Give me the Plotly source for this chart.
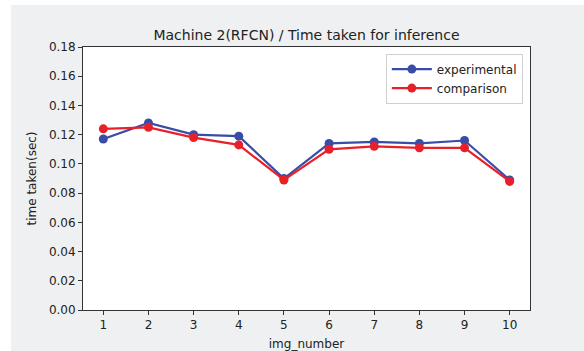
import plotly.graph_objects as go

img_number = list(range(1, 11))
experimental = [0.117, 0.128, 0.120, 0.119, 0.090, 0.114, 0.115, 0.114, 0.116, 0.089]
comparison = [0.124, 0.125, 0.118, 0.113, 0.089, 0.110, 0.112, 0.111, 0.111, 0.088]
y_ticks = [0.00, 0.02, 0.04, 0.06, 0.08, 0.10, 0.12, 0.14, 0.16, 0.18]

BLUE = "#3a4da6"
RED = "#e8202a"
FONT = "DejaVu Sans"
TEXT = "#222222"

fig = go.Figure()
fig.add_trace(go.Scatter(
    x=img_number, y=experimental, name="experimental", mode="lines+markers",
    line=dict(color=BLUE, width=2.2), marker=dict(color=BLUE, size=9),
))
fig.add_trace(go.Scatter(
    x=img_number, y=comparison, name="comparison", mode="lines+markers",
    line=dict(color=RED, width=2.2), marker=dict(color=RED, size=9),
))

axis_common = dict(
    showline=True, linecolor="#333333", linewidth=1, mirror=True,
    ticks="outside", ticklen=4, tickcolor="#333333", showgrid=False,
    zeroline=False, automargin=False, tickfont=dict(family=FONT, size=12, color=TEXT),
)

fig.update_layout(
    width=584, height=351,
    margin=dict(l=83, r=54, t=47, b=41),
    paper_bgcolor="#eff0f1",
    plot_bgcolor="white",
    title=dict(text="Machine 2(RFCN) / Time taken for inference",
               x=(83 + 447 / 2) / 584, xanchor="center", y=1 - 40 / 351, yanchor="bottom",
               font=dict(family=FONT, size=14, color=TEXT)),
    xaxis=dict(range=[0.55, 10.45], tickvals=img_number,
               title=dict(text="img_number", font=dict(family=FONT, size=12, color=TEXT), standoff=8),
               **axis_common),
    yaxis=dict(range=[0, 0.18], tickvals=y_ticks, ticktext=[f"{v:.2f}" for v in y_ticks],
               title=dict(text="time taken(sec)", font=dict(family=FONT, size=12, color=TEXT), standoff=9),
               **axis_common),
    legend=dict(x=0.984, y=0.975, xanchor="right", yanchor="top",
                bgcolor="rgba(255,255,255,0.9)", bordercolor="#d0d0d0", borderwidth=1,
                font=dict(family=FONT, size=12, color=TEXT),
                tracegroupgap=0, itemwidth=40),
    showlegend=True,
    shapes=[
        dict(type="rect", xref="paper", yref="paper", x0=-83 / 447, x1=-72 / 447,
             y0=-41 / 263, y1=310 / 263, fillcolor="white", line=dict(width=0), layer="below"),
        dict(type="rect", xref="paper", yref="paper", x0=-83 / 447, x1=501 / 447,
             y0=305 / 263, y1=310 / 263, fillcolor="white", line=dict(width=0), layer="below"),
    ],
)

fig.write_html("out.html")
